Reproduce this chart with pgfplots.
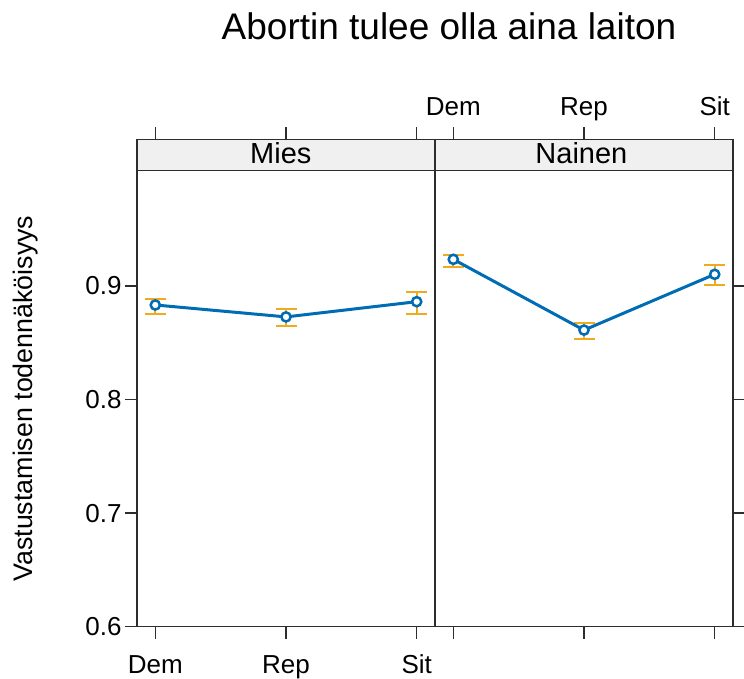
\documentclass[border=0pt]{standalone}
\usepackage{pgfplots}
\pgfplotsset{compat=1.18}
\usepackage{fontspec}
\setmainfont{Liberation Sans}
\definecolor{lineblue}{RGB}{0,108,180}
\definecolor{errgold}{RGB}{240,170,30}
\definecolor{framec}{RGB}{45,45,45}
\definecolor{stripgray}{RGB}{240,240,240}
\pgfplotsset{
  panel/.style={
    scale only axis, width=298pt, height=487.4pt,
    xmin=0.86, xmax=3.14, ymin=0.6, ymax=1.0292,
    xtick={1,2,3}, ytick={0.6,0.7,0.8,0.9},
    xticklabels={Dem,Rep,Sit},
    tick align=outside, major tick length=12pt,
    axis line style={framec, line width=1.3pt},
    every tick/.style={framec, line width=1.3pt},
    tick label style={font=\fontsize{26}{26}\selectfont},
    /pgf/number format/assume math mode=true,
    /pgf/number format/fixed, /pgf/number format/precision=1,
    clip=false,
  },
  errplot/.style={forget plot, draw=none, errgold, line width=2pt, mark=none,
    error bars/.cd, y dir=both, y explicit,
    error mark=|, error mark options={errgold, line width=2pt, mark size=10.5pt},
    error bar style={errgold, line width=2pt}},
  lineplot/.style={lineblue, line width=3pt, mark=*, mark size=4.6pt,
    mark options={draw=lineblue, fill=white, line width=2.5pt}},
}
\begin{document}
\begin{tikzpicture}
\useasboundingbox (0,0) rectangle (744pt,678pt);
\node[font=\fontsize{37}{37}\selectfont, anchor=base] at (449pt,638pt) {Abortin tulee olla aina laiton};
% Mies panel
\begin{axis}[panel, at={(137pt,51.3pt)}, anchor=south west,
  xtick pos=both, xticklabel pos=bottom, ytick pos=left,
  xticklabel style={anchor=base, yshift=-34.5pt},
  ylabel={Vastustamisen todennäköisyys},
  ylabel style={at={(axis description cs:-0.375,0.468)}, anchor=center, font=\fontsize{26.8}{26.8}\selectfont}]
\addplot[errplot] coordinates {
  (1,0.8833) += (0,0.0050) -= (0,0.0082)
  (2,0.8728) += (0,0.0070) -= (0,0.0083)
  (3,0.8862) += (0,0.0082) -= (0,0.0111)
};
\addplot[lineplot] coordinates {(1,0.8833) (2,0.8728) (3,0.8862)};
\draw[framec, line width=1.3pt, fill=stripgray] (axis cs:0.86,1.0017) rectangle (axis cs:3.14,1.0292);
\node[anchor=base, font=\fontsize{29}{29}\selectfont] at (axis cs:1.96,1.0083) {Mies};
\end{axis}
% Nainen panel
\begin{axis}[panel, at={(435pt,51.3pt)}, anchor=south west,
  xtick pos=both, xticklabel pos=top, ytick pos=right, yticklabels={},
  xticklabel style={anchor=base, yshift=11.7pt}]
\addplot[errplot] coordinates {
  (1,0.9235) += (0,0.0038) -= (0,0.0065)
  (2,0.8612) += (0,0.0060) -= (0,0.0082)
  (3,0.9103) += (0,0.0082) -= (0,0.0097)
};
\addplot[lineplot] coordinates {(1,0.9235) (2,0.8612) (3,0.9103)};
\draw[framec, line width=1.3pt, fill=stripgray] (axis cs:0.86,1.0017) rectangle (axis cs:3.14,1.0292);
\node[anchor=base, font=\fontsize{29}{29}\selectfont] at (axis cs:1.98,1.0083) {Nainen};
\end{axis}
\end{tikzpicture}
\end{document}
